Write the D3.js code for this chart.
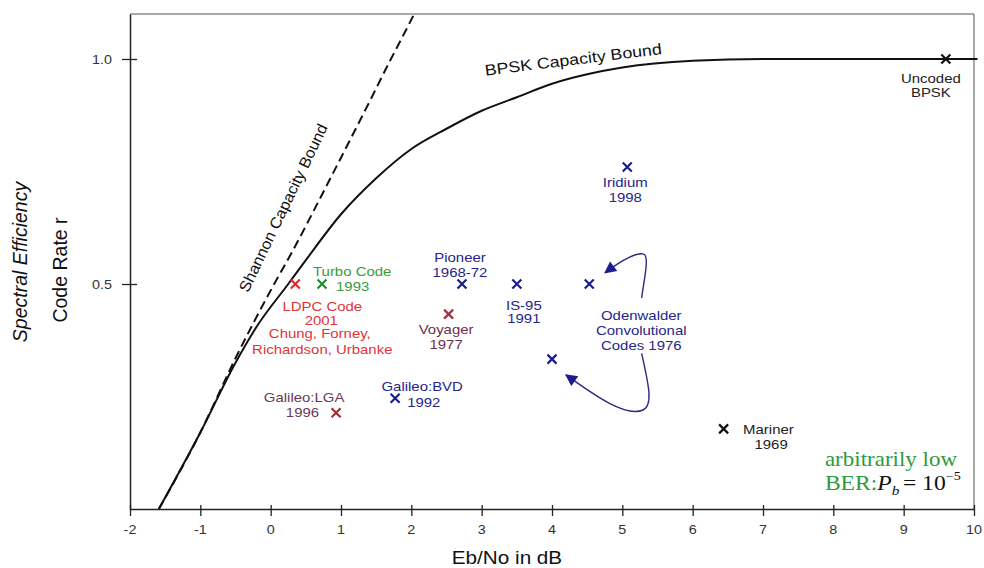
<!DOCTYPE html>
<html>
<head>
<meta charset="utf-8">
<script src="https://cdn.jsdelivr.net/npm/d3@7"></script>
<style>
  body { margin: 0; background: #fff; }
  text { font-family: "Liberation Sans", Arial, sans-serif; }
</style>
</head>
<body>
<div id="viz"></div>
<script>
// axis ticks
var xTicks = [-2, -1, 0, 1, 2, 3, 4, 5, 6, 7, 8, 9, 10];
var yTicks = [0.5, 1.0];
var yTickLabels = ["0.5", "1.0"];

// Shannon capacity bound (dashed)
var shannonEbNo = [-1.59, -1.0, -0.5, 0.05, 0.3, 0.8, 1.35, 1.71, 1.93, 2.04];
var shannonRate = [0, 0.17, 0.335, 0.5, 0.57, 0.72, 0.888, 1.0, 1.066, 1.1];

// BPSK capacity bound (solid)
var bpskEbNo = [-1.59, -1.0, -0.5, -0.2, 0.25, 0.5, 1.0, 1.5, 2.0, 2.5, 3.0, 3.5, 4.0, 4.5, 5.0, 6.0, 7.0, 8.0, 9.0, 10.05];
var bpskRate = [0, 0.17, 0.325, 0.405, 0.5, 0.553, 0.655, 0.735, 0.80, 0.845, 0.885, 0.915, 0.945, 0.966, 0.981, 0.996, 1.0, 1.0, 1.0, 1.0];

// coded systems
var codeNames = ["LDPC", "Turbo", "Pioneer", "Voyager", "IS-95", "OdenwalderA", "OdenwalderB",
                 "Iridium", "GalileoBVD", "GalileoLGA", "Mariner", "Uncoded"];
var codeEbNo = [0.35, 0.73, 2.72, 2.53, 3.5, 4.53, 4.0, 5.07, 1.77, 0.93, 6.44, 9.6];
var codeRate = [0.5, 0.5, 0.5, 0.433, 0.5, 0.5, 0.333, 0.76, 0.246, 0.214, 0.178, 1.0];
var codeLabels = [
    ["LDPC Code", "2001", "Chung, Forney,", "Richardson, Urbanke"],
    ["Turbo Code", "1993"],
    ["Pioneer", "1968-72"],
    ["Voyager", "1977"],
    ["IS-95", "1991"],
    ["Odenwalder", "Convolutional", "Codes 1976"],
    [],
    ["Iridium", "1998"],
    ["Galileo:BVD", "1992"],
    ["Galileo:LGA", "1996"],
    ["Mariner", "1969"],
    ["Uncoded", "BPSK"]
];

// label placement (px offsets from the marker) and colours
var labelLayout = {
    LDPC: [[27, 27, "middle"], [26, 40.5, "middle"], [24.5, 54, "middle"], [27, 69.5, "middle"]],
    Turbo: [[-9, -8, "start"], [14, 6.5, "start"]],
    Pioneer: [[-2, -22.5, "middle"], [-2, -7.5, "middle"]],
    Voyager: [[-2.5, 20, "middle"], [-2.5, 35, "middle"]],
    "IS-95": [[7, 25.5, "middle"], [7, 39, "middle"]],
    OdenwalderA: [[52, 36, "middle"], [52, 51, "middle"], [52, 66, "middle"]],
    OdenwalderB: [],
    Iridium: [[-2, 20, "middle"], [-2, 35, "middle"]],
    GalileoBVD: [[27, -7.7, "middle"], [12, 8.3, "start"]],
    GalileoLGA: [[-32, -11, "middle"], [-17, 4, "end"]],
    Mariner: [[19.5, 5, "start"], [47.5, 20, "middle"]],
    Uncoded: [[-15, 24, "middle"], [-15, 37.5, "middle"]]
};
var blue = { mark: "#1c1c8c", text: "#26268a" };
var codeColors = {
    LDPC: { mark: "#e8262b", text: "#e03535" },
    Turbo: { mark: "#1e8c2a", text: "#3a9a3a" },
    Pioneer: blue, "IS-95": blue, OdenwalderA: blue, OdenwalderB: blue, Iridium: blue, GalileoBVD: blue,
    Voyager: { mark: "#a33040", text: "#6e2e50" },
    GalileoLGA: { mark: "#a82a30", text: "#6a3a5c" },
    Mariner: { mark: "#111111", text: "#222222" },
    Uncoded: { mark: "#111111", text: "#222222" }
};

// annotation anchors, in data units
var bpskLabelAt = [4.31, 0.987];
var shannonLabelAt = [0.247, 0.664];
var berLabelAt = [7.88, 0.0955];
// arrows from the Odenwalder label to its two points (cubic segments)
var arrowUpper = [[5.275, 0.469], [5.307, 0.509], [5.394, 0.565], [5.294, 0.567],
                  [5.180, 0.570], [4.967, 0.550], [4.754, 0.525]];
var arrowLower = [[5.275, 0.346], [5.337, 0.298], [5.465, 0.231], [5.294, 0.220],
                  [5.038, 0.202], [4.541, 0.260], [4.199, 0.298]];

// set the dimensions and margins of the graph
var margin = { top: 14, right: 10, bottom: 59, left: 130 },
    width = 984 - margin.left - margin.right,
    height = 568 - margin.top - margin.bottom;

var svgRoot = d3.select("#viz")
    .append("svg")
    .attr("width", width + margin.left + margin.right)
    .attr("height", height + margin.top + margin.bottom);

var svg = svgRoot.append("g")
    .attr("transform", "translate(" + margin.left + "," + margin.top + ")");

var STRETCH = 1.15;

// text that is a bit wider than the font (the original is horizontally stretched)
function label(parent, x, y, str, anchor, color, size, extra) {
    return parent.append("text")
        .attr("transform", "translate(" + x + "," + y + ")" + (extra || "") + " scale(" + STRETCH + ",1)")
        .attr("text-anchor", anchor)
        .style("font-size", size + "px")
        .style("fill", color)
        .text(str);
}

function plot() {

    var x = d3.scaleLinear().domain([-2, 10]).range([0, width]);
    var y = d3.scaleLinear().domain([0, 1.1]).range([height, 0]);

    // frame: thin top/right border
    svg.append("path")
        .attr("d", "M0,0H" + width + "V" + height)
        .attr("fill", "none")
        .attr("stroke", "#555")
        .attr("stroke-width", 1);

    // X axis
    var xAxis = svg.append("g")
        .attr("transform", "translate(0," + height + ")")
        .call(d3.axisBottom(x).tickValues(xTicks).tickFormat("").tickSizeOuter(0));
    xAxis.select(".domain").attr("stroke", "#222").attr("stroke-width", 1.5);
    xAxis.selectAll(".tick line").attr("y1", -4).attr("y2", 7).attr("stroke", "#222").attr("stroke-width", 1.3);

    xTicks.forEach(function (t) {
        label(svg, x(t), height + 25, String(t), "middle", "#333", 12.5);
    });

    // Y axis
    var yAxis = svg.append("g")
        .call(d3.axisLeft(y).tickValues(yTicks).tickFormat("").tickSizeOuter(0));
    yAxis.select(".domain").attr("stroke", "#222").attr("stroke-width", 1.5);
    yAxis.selectAll(".tick line").attr("x1", 7).attr("x2", -8).attr("stroke", "#222").attr("stroke-width", 1.3);

    yTicks.forEach(function (t, i) {
        label(svg, -18, y(t) + 4.5, yTickLabels[i], "end", "#333", 12.5);
    });

    // axis titles
    label(svg, 377, height + 55, "Eb/No in dB", "middle", "#111", 18);

    svg.append("text")
        .attr("transform", "translate(" + (27 - margin.left) + "," + (262 - margin.top) + ") rotate(-90)")
        .attr("text-anchor", "middle")
        .style("font-size", "19.5px")
        .style("font-style", "italic")
        .style("fill", "#111")
        .text("Spectral Efficiency");

    svg.append("text")
        .attr("transform", "translate(" + (67 - margin.left) + "," + (270 - margin.top) + ") rotate(-90)")
        .attr("text-anchor", "middle")
        .style("font-size", "19.5px")
        .style("fill", "#111")
        .text("Code Rate r");

    // capacity curves
    var line = d3.line()
        .x(function (d) { return x(d[0]); })
        .y(function (d) { return y(d[1]); })
        .curve(d3.curveMonotoneX);

    svg.append("path")
        .datum(shannonEbNo.map(function (v, i) { return [v, shannonRate[i]]; }))
        .attr("fill", "none")
        .attr("stroke", "#111")
        .attr("stroke-width", 2)
        .attr("stroke-dasharray", "9,5")
        .attr("d", line);

    svg.append("path")
        .datum(bpskEbNo.map(function (v, i) { return [v, bpskRate[i]]; }))
        .attr("fill", "none")
        .attr("stroke", "#111")
        .attr("stroke-width", 2)
        .attr("d", line);

    label(svg, x(bpskLabelAt[0]), y(bpskLabelAt[1]), "BPSK Capacity Bound", "middle", "#111", 15.5, " rotate(-7)");
    svg.append("text")
        .attr("transform", "translate(" + x(shannonLabelAt[0]) + "," + y(shannonLabelAt[1]) + ") rotate(-64.3) scale(1.05,1)")
        .attr("text-anchor", "middle")
        .style("font-size", "15.5px")
        .style("fill", "#111")
        .text("Shannon Capacity Bound");

    // arrows
    var defs = svgRoot.append("defs");
    defs.append("marker")
        .attr("id", "arrowhead")
        .attr("viewBox", "0 0 10 10")
        .attr("refX", 9)
        .attr("refY", 5)
        .attr("markerWidth", 14)
        .attr("markerHeight", 12)
        .attr("markerUnits", "userSpaceOnUse")
        .attr("orient", "auto")
        .append("path")
        .attr("d", "M0,0L10,5L0,10Z")
        .attr("fill", "#1c1c8c");

    function arrowPath(pts) {
        var p = d3.path();
        p.moveTo(x(pts[0][0]), y(pts[0][1]));
        for (var i = 1; i + 2 < pts.length; i += 3) {
            p.bezierCurveTo(x(pts[i][0]), y(pts[i][1]),
                x(pts[i + 1][0]), y(pts[i + 1][1]),
                x(pts[i + 2][0]), y(pts[i + 2][1]));
        }
        return p.toString();
    }

    [arrowUpper, arrowLower].forEach(function (pts) {
        svg.append("path")
            .attr("d", arrowPath(pts))
            .attr("fill", "none")
            .attr("stroke", "#2a2a80")
            .attr("stroke-width", 1.4)
            .attr("marker-end", "url(#arrowhead)");
    });

    // the X markers
    var s = 4.5;
    svg.selectAll(".mark")
        .data(codeNames)
        .enter()
        .append("path")
        .attr("class", "mark")
        .attr("d", function (d, i) {
            var cx = x(codeEbNo[i]), cy = y(codeRate[i]);
            return "M" + (cx - s) + "," + (cy - s) + "L" + (cx + s) + "," + (cy + s) +
                "M" + (cx - s) + "," + (cy + s) + "L" + (cx + s) + "," + (cy - s);
        })
        .attr("stroke", function (d) { return codeColors[d].mark; })
        .attr("stroke-width", 2.2)
        .attr("fill", "none");

    // labels of the coded systems
    codeNames.forEach(function (name, i) {
        var cx = x(codeEbNo[i]), cy = y(codeRate[i]);
        codeLabels[i].forEach(function (txt, j) {
            var l = labelLayout[name][j];
            label(svg, cx + l[0], cy + l[1], txt, l[2], codeColors[name].text, 13);
        });
    });

    // BER note
    var bx = x(berLabelAt[0]), by = y(berLabelAt[1]);
    label(svg, bx, by, "arbitrarily low", "start", "#2e9a3a", 20)
        .style("font-family", "'Liberation Serif', 'Times New Roman', serif");
    var ber = svg.append("text")
        .attr("transform", "translate(" + bx + "," + (by + 24) + ") scale(1.18,1)")
        .style("font-family", "'Liberation Serif', 'Times New Roman', serif")
        .style("font-size", "20px");
    ber.append("tspan").style("fill", "#2e9a3a").text("BER:");
    ber.append("tspan").style("fill", "#111").style("font-style", "italic").text("P");
    ber.append("tspan").style("fill", "#111").style("font-style", "italic")
        .style("font-size", "13px").attr("dy", 5).text("b");
    ber.append("tspan").style("fill", "#111").attr("dy", -5).attr("dx", 3).text("= 10");
    ber.append("tspan").style("fill", "#111").style("font-size", "12px").attr("dy", -10).text("\u22125");
}

plot();
</script>
</body>
</html>
